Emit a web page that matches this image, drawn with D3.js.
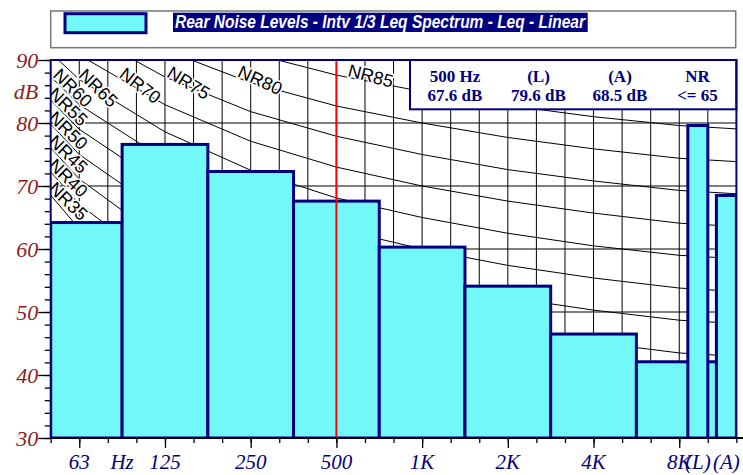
<!DOCTYPE html>
<html lang="en">
<head>
	<meta charset="UTF-8">
	<title>Rear Noise Levels - Intv 1/3 Leq Spectrum</title>
	<script src="https://d3js.org/d3.v7.min.js"></script>
	<style>
		* {
			margin: 0px;
			padding: 0px;
		}
		body { background: #fff; }
	</style>
</head>
<body>
	<svg width="743" height="475"></svg>
	<script>
		// 1/3 octave bands along the x axis (index 0 = 50 Hz)
		var bandNames = ["50", "63", "80", "100", "125", "160", "200", "250", "315", "400", "500", "630",
			"800", "1K", "1.25K", "1.6K", "2K", "2.5K", "3.15K", "4K", "5K", "6.3K", "8K", "10K", "12.5K"];

		// octave band levels, dB
		var octaveNames = ["63", "125", "250", "500", "1K", "2K", "4K", "8K"];
		var octaveLevels = [64.2, 76.6, 72.3, 67.6, 60.3, 54.1, 46.5, 42.1];

		// overall levels
		var overallNames = ["(L)", "(A)"];
		var overallLevels = [79.6, 68.5];

		var yTicks = [30, 40, 50, 60, 70, 80, 90];

		// NR curves, values at 31.5, 63, 125 ... 8K, 16K
		var nrFreqs = ["31.5", "63", "125", "250", "500", "1K", "2K", "4K", "8K", "16K"];
		var nr35 = [79.2, 63.2, 52.5, 44.6, 38.9, 35, 32.0, 29.8, 28.1, 27.3];
		var nr40 = [82.6, 67.1, 56.8, 49.2, 43.8, 40, 37.1, 34.9, 33.2, 32.4];
		var nr45 = [86.0, 71.1, 61.2, 53.9, 48.6, 45, 42.2, 40.0, 38.4, 37.6];
		var nr50 = [89.5, 75.0, 65.5, 58.5, 53.5, 50, 47.3, 45.2, 43.5, 42.7];
		var nr55 = [92.9, 79.0, 69.9, 63.2, 58.4, 55, 52.3, 50.3, 48.7, 47.9];
		var nr60 = [96.3, 82.9, 74.2, 67.8, 63.2, 60, 57.4, 55.4, 53.8, 53.0];
		var nr65 = [99.7, 86.9, 78.6, 72.5, 68.1, 65, 62.5, 60.5, 59.0, 58.2];
		var nr70 = [103.1, 90.8, 82.9, 77.1, 73.0, 70, 67.6, 65.7, 64.1, 63.3];
		var nr75 = [106.5, 94.8, 87.3, 81.8, 77.9, 75, 72.6, 70.8, 69.3, 68.5];
		var nr80 = [109.9, 98.7, 91.6, 86.4, 82.7, 80, 77.7, 75.9, 74.4, 73.6];
		var nr85 = [113.3, 102.7, 96.0, 91.1, 87.6, 85, 82.8, 81.0, 79.6, 78.8];
		var nrNames = ["NR35", "NR40", "NR45", "NR50", "NR55", "NR60", "NR65", "NR70", "NR75", "NR80", "NR85"];
		var nrCurves = [nr35, nr40, nr45, nr50, nr55, nr60, nr65, nr70, nr75, nr80, nr85];

		var infoHeads = ["500 Hz", "(L)", "(A)", "NR"];
		var infoValues = ["67.6 dB", "79.6 dB", "68.5 dB", "<= 65"];

		var title = "Rear Noise Levels - Intv 1/3 Leq Spectrum - Leq - Linear";

		var navy = "#000080";
		var maroon = "#8c1c1c";
		var barFill = "#72f8f8";
		var svg = d3.select("svg");
		var pl = 50.7, pr = 736.4, pt = 60, pb = 438;

		var x = d3.scaleLinear().domain([0, 24]).range([pl, pr]);
		var y = d3.scaleLinear().domain([30, 90]).range([pb, pt]);

		var defs = svg.append("defs");
		defs.append("clipPath").attr("id", "plotclip").append("rect")
			.attr("x", pl).attr("y", pt).attr("width", pr - pl).attr("height", pb - pt);

		// title box
		svg.append("rect").attr("x", pl).attr("y", 11).attr("width", 685).attr("height", 36.7)
			.attr("fill", "#fff").attr("stroke", "#777").attr("stroke-width", 1.5);
		svg.append("rect").attr("x", 65).attr("y", 13.7).attr("width", 81).attr("height", 19)
			.attr("fill", barFill).attr("stroke", navy).attr("stroke-width", 3);
		svg.append("rect").attr("x", 173).attr("y", 12.7).attr("width", 414.7).attr("height", 19.3)
			.attr("fill", navy);
		svg.append("text").attr("x", 175).attr("y", 28.3).text(title)
			.attr("font-family", "Liberation Sans, Arial, sans-serif").attr("font-weight", "bold")
			.attr("font-style", "italic").attr("font-size", 18.5).attr("fill", "#fff")
			.attr("textLength", 410).attr("lengthAdjust", "spacingAndGlyphs");

		// plot background + grid
		svg.append("rect").attr("x", pl).attr("y", pt).attr("width", pr - pl).attr("height", pb - pt)
			.attr("fill", "#fff");
		var grid = svg.append("g").attr("clip-path", "url(#plotclip)");
		grid.selectAll(".vg").data(d3.range(1, 24)).enter().append("line")
			.attr("x1", d => x(d)).attr("x2", d => x(d)).attr("y1", pt).attr("y2", pb)
			.attr("stroke", "#000").attr("stroke-width", 1);
		grid.selectAll(".hg").data(yTicks.slice(1, -1)).enter().append("line")
			.attr("x1", pl).attr("x2", pr).attr("y1", d => y(d)).attr("y2", d => y(d))
			.attr("stroke", "#000").attr("stroke-width", 1);

		// NR curves
		var nrIndex = nrFreqs.map((f, i) => -2 + 3 * i);
		var line = d3.line().x((d, i) => x(nrIndex[i])).y(d => y(d));
		var curves = svg.append("g").attr("clip-path", "url(#plotclip)");
		curves.selectAll("path").data(nrCurves).enter().append("path")
			.attr("d", line).attr("fill", "none").attr("stroke", "#000").attr("stroke-width", 1);

		function yAtX(vals, px) {
			var idx = x.invert(px);
			var k = Math.max(0, Math.min(nrIndex.length - 2, Math.floor((idx + 2) / 3)));
			var t = (idx - nrIndex[k]) / 3;
			return y(vals[k] + (vals[k + 1] - vals[k]) * t);
		}
		var labels = svg.append("g").attr("clip-path", "url(#plotclip)");
		nrCurves.forEach(function (vals, i) {
			var target = pt + 17;
			var sx = pl - 4;
			if (yAtX(vals, pl) < target) {
				sx = pl;
				while (yAtX(vals, sx) < target && sx < pr) sx += 0.5;
			}
			var sy = yAtX(vals, sx);
			var a = 1.25 * Math.atan2(yAtX(vals, sx + 25) - yAtX(vals, sx - 20), 45) * 180 / Math.PI;
			a = Math.min(a, 44);
			labels.append("text").text(nrNames[i])
				.attr("transform", "translate(" + sx + "," + sy + ") rotate(" + a + ")")
				.attr("dy", -1)
				.attr("font-family", "Liberation Sans, Arial, sans-serif").attr("font-size", 18)
				.attr("fill", "#000").attr("stroke", "#fff").attr("stroke-width", 3)
				.attr("paint-order", "stroke");
		});

		// octave bars
		var bars = svg.append("g").attr("clip-path", "url(#plotclip)");
		bars.selectAll(".ob").data(octaveLevels).enter().append("rect")
			.attr("x", (d, i) => Math.max(pl, x(1 + 3 * i - 1.5)))
			.attr("width", (d, i) => x(1 + 3 * i + 1.5) - Math.max(pl, x(1 + 3 * i - 1.5)))
			.attr("y", d => y(d)).attr("height", d => pb - y(d))
			.attr("fill", barFill).attr("stroke", navy).attr("stroke-width", 3);
		// overall bars
		var overallSlots = [22.3, 23.3];
		bars.selectAll(".tb").data(overallLevels).enter().append("rect")
			.attr("x", (d, i) => x(overallSlots[i]))
			.attr("width", x(0.7) - x(0))
			.attr("y", d => y(d)).attr("height", d => pb - y(d))
			.attr("fill", barFill).attr("stroke", navy).attr("stroke-width", 3);

		// 500 Hz marker
		svg.append("line").attr("x1", x(10)).attr("x2", x(10)).attr("y1", pt).attr("y2", pb)
			.attr("stroke", "#ff0000").attr("stroke-width", 2);

		// info box
		svg.append("rect").attr("x", 410).attr("y", pt).attr("width", pr - 410).attr("height", 49.3)
			.attr("fill", "#fff").attr("stroke", navy).attr("stroke-width", 2);
		var infoX = [455, 538.5, 620, 697.5];
		var info = svg.append("g").attr("font-family", "Liberation Serif, Times New Roman, serif")
			.attr("font-weight", "bold").attr("font-size", 17).attr("fill", navy).attr("text-anchor", "middle");
		info.selectAll(".h").data(infoHeads).enter().append("text")
			.attr("x", (d, i) => infoX[i]).attr("y", 81.7).text(d => d);
		info.selectAll(".v").data(infoValues).enter().append("text")
			.attr("x", (d, i) => infoX[i]).attr("y", 100.7).text(d => d);

		// plot frame
		svg.append("rect").attr("x", pl).attr("y", pt).attr("width", pr - pl).attr("height", pb - pt)
			.attr("fill", "none").attr("stroke", navy).attr("stroke-width", 2);

		// y axis
		var yMinor = svg.append("g").attr("transform", "translate(" + pl + ",0)")
			.call(d3.axisLeft(y).tickValues(d3.range(30, 91, 2)).tickSize(6).tickFormat(""));
		var yMajor = svg.append("g").attr("transform", "translate(" + pl + ",0)")
			.call(d3.axisLeft(y).tickValues(yTicks).tickSize(12.5).tickPadding(0));
		[yMinor, yMajor].forEach(function (g) {
			g.select(".domain").remove();
			g.selectAll("line").attr("stroke", "#000").attr("stroke-width", 1.3);
		});
		yMajor.selectAll("text").attr("font-family", "Liberation Serif, Times New Roman, serif")
			.attr("font-style", "italic").attr("font-size", 22).attr("fill", maroon);
		svg.append("text").attr("x", pl - 12.5).attr("y", y(85)).attr("dy", "0.32em")
			.attr("text-anchor", "end").text("dB")
			.attr("font-family", "Liberation Serif, Times New Roman, serif")
			.attr("font-style", "italic").attr("font-size", 22).attr("fill", maroon);

		// x axis
		var xMinor = svg.append("g").attr("transform", "translate(0," + pb + ")")
			.call(d3.axisBottom(x).tickValues(d3.range(0, 25)).tickSize(5).tickFormat(""));
		var xMajor = svg.append("g").attr("transform", "translate(0," + pb + ")")
			.call(d3.axisBottom(x).tickValues(octaveNames.map((d, i) => 1 + 3 * i)).tickSize(10).tickFormat(""));
		[xMinor, xMajor].forEach(function (g) {
			g.select(".domain").remove();
			g.selectAll("line").attr("stroke", "#000").attr("stroke-width", 1.3);
		});
		svg.append("line").attr("x1", pl).attr("x2", 743).attr("y1", pb).attr("y2", pb)
			.attr("stroke", "#000").attr("stroke-width", 2);

		var xLabels = octaveNames.map((d, i) => ({ t: d, v: 1 + 3 * i }))
			.concat([{ t: "Hz", v: 2.5 }])
			.concat(overallNames.map((d, i) => ({ t: d, v: overallSlots[i] + 0.35 })));
		svg.append("g").selectAll("text").data(xLabels).enter().append("text")
			.attr("x", d => x(d.v)).attr("y", 469.3).attr("text-anchor", "middle").text(d => d.t)
			.attr("font-family", "Liberation Serif, Times New Roman, serif")
			.attr("font-style", "italic").attr("font-size", 21).attr("fill", navy);
	</script>
</body>
</html>
